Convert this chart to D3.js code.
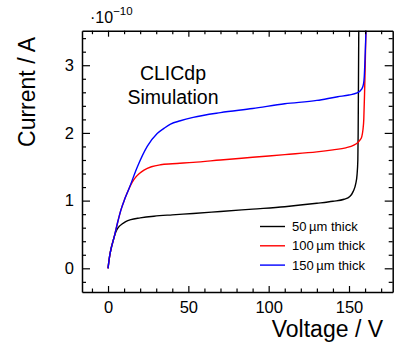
<!DOCTYPE html>
<html>
<head>
<meta charset="utf-8">
<script src="https://cdn.jsdelivr.net/npm/d3@7"></script>
<style>
  body { margin: 0; background: #fff; }
  svg { font-family: "Liberation Sans", Arial, Helvetica, sans-serif; }
</style>
</head>
<body>
<div id="chart"></div>
<script>
// Leakage current vs bias voltage, current in units of 1e-10 A
const volt50 = [0, 1, 2, 3, 4.3, 5.5, 7, 8.5, 11, 14.2, 20, 28.6, 40, 53, 70, 90, 110, 130, 140, 147, 150.5, 152.7, 154.2, 155, 155.5, 155.7, 155.9, 156.1]
const curr50 = [0, 0.18, 0.3, 0.39, 0.5, 0.57, 0.62, 0.65, 0.69, 0.72, 0.745, 0.77, 0.79, 0.81, 0.84, 0.875, 0.91, 0.96, 0.99, 1.02, 1.06, 1.14, 1.25, 1.38, 1.6, 2.0, 2.8, 3.6]

const volt100 = [0, 1, 2, 3, 4, 6, 8, 10.5, 13.1, 15, 17, 19.5, 22.4, 27, 32.7, 40, 53, 70, 90, 110, 130, 140, 148, 153, 155.5, 157, 158, 158.7, 159.2, 159.7, 160.1, 160.6]
const curr100 = [0, 0.18, 0.3, 0.39, 0.48, 0.68, 0.86, 1.03, 1.18, 1.27, 1.34, 1.4, 1.45, 1.5, 1.53, 1.545, 1.565, 1.6, 1.64, 1.68, 1.72, 1.75, 1.78, 1.82, 1.86, 1.9, 1.95, 2.05, 2.2, 2.6, 3.0, 3.6]

const volt150 = [0, 1, 2, 3, 4, 6, 8, 10.5, 13.1, 18.3, 24.4, 30.6, 35, 38.9, 45, 53, 70, 90, 110, 130, 143, 150, 155, 158, 159, 159.5, 160.1, 160.7]
const curr150 = [0, 0.18, 0.3, 0.39, 0.48, 0.68, 0.86, 1.03, 1.18, 1.5, 1.8, 1.99, 2.07, 2.13, 2.18, 2.23, 2.3, 2.36, 2.43, 2.48, 2.535, 2.56, 2.59, 2.65, 2.72, 2.83, 3.18, 3.6]

const seriesNames = ["50\u2009\u00b5m thick", "100\u2009\u00b5m thick", "150\u2009\u00b5m thick"]
const seriesColors = ["#000000", "#ff0000", "#0000ff"]

const xMajor = [0, 50, 100, 150]
const yMajor = [0, 1, 2, 3]

const width = 400, height = 345
const frame = { left: 82, right: 392.7, top: 30.7, bottom: 292 }

const svg = d3.select("#chart").append("svg")
  .attr("width", width)
  .attr("height", height)

const x = d3.scaleLinear().domain([-16.2, 177.2]).range([frame.left, frame.right])
const y = d3.scaleLinear().domain([-0.35, 3.51]).range([frame.bottom, frame.top])

const xMinor = d3.range(-10, 177, 10).filter(v => !xMajor.includes(v))
const yMinor = d3.range(-0.2, 3.5, 0.2).map(v => +v.toFixed(1)).filter(v => !yMajor.includes(v))

// clip curves to the frame
svg.append("clipPath").attr("id", "clip")
  .append("rect")
  .attr("x", frame.left).attr("y", frame.top)
  .attr("width", frame.right - frame.left)
  .attr("height", frame.bottom - frame.top)

const line = d3.line()
  .x(d => x(d[0]))
  .y(d => y(d[1]))
  .curve(d3.curveMonotoneX)

const series = [
  d3.zip(volt50, curr50),
  d3.zip(volt100, curr100),
  d3.zip(volt150, curr150)
]

svg.append("g").attr("clip-path", "url(#clip)")
  .selectAll("path")
  .data(series)
  .enter()
  .append("path")
  .attr("d", line)
  .attr("fill", "none")
  .attr("stroke", (_, i) => seriesColors[i])
  .attr("stroke-width", 1.4)

// axes, ticks pointing inward on all four sides
function styleAxis(g) {
  g.select(".domain").attr("stroke", "#000").attr("stroke-width", 1.5)
  g.selectAll(".tick line").attr("stroke", "#000").attr("stroke-width", 1.2)
  g.selectAll("text").attr("fill", "#000").style("font-size", "16.5px")
}

const axisB = svg.append("g").attr("transform", `translate(0,${frame.bottom})`)
axisB.call(d3.axisBottom(x).tickValues(xMajor).tickSize(-6).tickSizeOuter(0).tickPadding(9).tickFormat(d3.format("d")))
axisB.append("g").call(d3.axisBottom(x).tickValues(xMinor).tickSize(-3.5).tickFormat(""))
  .select(".domain").remove()
axisB.call(styleAxis)

const axisT = svg.append("g").attr("transform", `translate(0,${frame.top})`)
axisT.call(d3.axisTop(x).tickValues(xMajor).tickSize(-6).tickSizeOuter(0).tickFormat(""))
axisT.append("g").call(d3.axisTop(x).tickValues(xMinor).tickSize(-3.5).tickFormat(""))
  .select(".domain").remove()
axisT.call(styleAxis)

const axisL = svg.append("g").attr("transform", `translate(${frame.left},0)`)
axisL.call(d3.axisLeft(y).tickValues(yMajor).tickSize(-8).tickSizeOuter(0).tickPadding(8).tickFormat(d3.format("d")))
axisL.append("g").call(d3.axisLeft(y).tickValues(yMinor).tickSize(-4).tickFormat(""))
  .select(".domain").remove()
axisL.call(styleAxis)

const axisR = svg.append("g").attr("transform", `translate(${frame.right},0)`)
axisR.call(d3.axisRight(y).tickValues(yMajor).tickSize(-8).tickSizeOuter(0).tickFormat(""))
axisR.append("g").call(d3.axisRight(y).tickValues(yMinor).tickSize(-4).tickFormat(""))
  .select(".domain").remove()
axisR.call(styleAxis)

// exponent label
const expo = svg.append("text")
  .attr("x", 90)
  .attr("y", 22.7)
  .style("font-size", "16px")
expo.append("tspan").text("\u00b710")
expo.append("tspan").attr("dy", -7.5).style("font-size", "11.5px").text("\u221210")

// axis titles
svg.append("text")
  .attr("text-anchor", "end")
  .attr("x", 383)
  .attr("y", 337)
  .style("font-size", "23px")
  .text("Voltage / V")

svg.append("text")
  .attr("text-anchor", "end")
  .attr("transform", "translate(35,37) rotate(-90)")
  .style("font-size", "23px")
  .text("Current / A")

// CLICdp label
svg.append("text")
  .attr("text-anchor", "middle")
  .attr("x", 173)
  .attr("y", 80)
  .style("font-size", "19.5px")
  .text("CLICdp")
svg.append("text")
  .attr("text-anchor", "middle")
  .attr("x", 173)
  .attr("y", 104)
  .style("font-size", "19.5px")
  .text("Simulation")

// legend
const legend = svg.append("g").attr("transform", "translate(260,226.5)")
const rows = legend.selectAll("g")
  .data(seriesNames)
  .enter()
  .append("g")
  .attr("transform", (_, i) => `translate(0,${i * 19.3})`)
rows.append("line")
  .attr("x1", 0).attr("x2", 25)
  .attr("stroke", (_, i) => seriesColors[i])
  .attr("stroke-width", 1.4)
rows.append("text")
  .attr("x", 32)
  .attr("y", 4.5)
  .style("font-size", "13px")
  .text(d => d)
</script>
</body>
</html>
